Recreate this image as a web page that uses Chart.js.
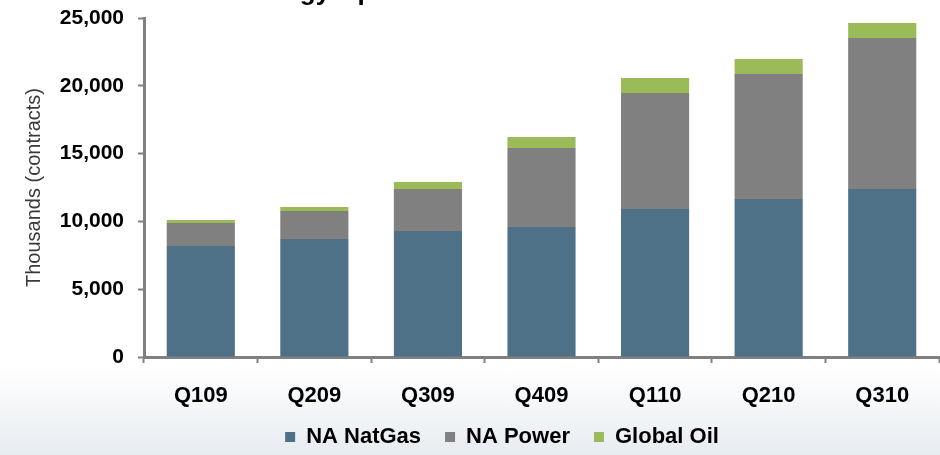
<!doctype html>
<html lang="en">
<head>
	<meta charset="utf-8">
	<title>Energy Open Interest</title>
	<script src="https://cdn.jsdelivr.net/npm/chart.js"></script>
	<style>
		html, body { margin: 0; padding: 0; }
		body {
			width: 940px; height: 455px; overflow: hidden;
			background: linear-gradient(to bottom, #ffffff 0px, #ffffff 365px, #e7ecf1 455px);
		}
		#wrap { position: relative; width: 940px; height: 455px; }
	</style>
</head>
<body>
	<div id="wrap"><canvas id="myChart" width="940" height="455"></canvas></div>

	<script>
		// quarters
		var quarters = ["Q109", "Q209", "Q309", "Q409", "Q110", "Q210", "Q310"];
		// thousands of contracts
		var naNatGas = [8190, 8700, 9290, 9590, 10910, 11650, 12390];
		var naPower = [1690, 2070, 3100, 5820, 8560, 9220, 11140];
		var globalOil = [220, 290, 520, 810, 1110, 1110, 1100];
		var yTicks = [0, 5000, 10000, 15000, 20000, 25000];

		var titleText = "Energy Open Interest";

		// title sits mostly above the picture, only its descenders show
		var cutTitle = {
			id: 'cutTitle',
			afterDraw: function (chart) {
				var ctx = chart.ctx;
				ctx.save();
				ctx.font = 'bold 26px "Liberation Sans", Arial, sans-serif';
				ctx.fillStyle = '#000';
				ctx.textAlign = 'left';
				ctx.textBaseline = 'alphabetic';
				ctx.fillText(titleText, 242, -0.5);
				ctx.restore();
			}
		};

		// legend wants wide gaps between items but not the tall box that comes with them,
		// and it sits a bit right of the canvas centre
		var legendFix = {
			id: 'legendFix',
			afterInit: function (chart) {
				var lg = chart.legend;
				var fit = lg.fit;
				var draw = lg.draw;
				lg.fit = function () {
					fit.call(this);
					this.height = 46;
				};
				lg.draw = function () {
					var c = this.ctx;
					c.save();
					c.translate(32, -7);
					draw.call(this);
					c.restore();
				};
			}
		};

		var ctx = document.getElementById('myChart').getContext('2d');
		var myChart = new Chart(ctx, {
			type: 'bar',
			data: {
				labels: quarters,
				datasets: [
					{ label: 'NA NatGas', data: naNatGas, backgroundColor: '#4e7188' },
					{ label: 'NA Power', data: naPower, backgroundColor: '#808080' },
					{ label: 'Global Oil', data: globalOil, backgroundColor: '#9bbb59' }
				]
			},
			options: {
				responsive: false,
				animation: false,
				layout: { padding: 0 },
				datasets: { bar: { categoryPercentage: 1, barPercentage: 0.6 } },
				plugins: {
					tooltip: { enabled: false },
					legend: {
						position: 'bottom',
						labels: {
							boxWidth: 10,
							boxHeight: 10,
							padding: 24,
							color: '#000',
							font: { family: '"Liberation Sans", Arial, sans-serif', size: 22, weight: 'bold' }
						}
					}
				},
				scales: {
					x: {
						stacked: true,
						border: { color: '#808080', width: 3 },
						grid: { offset: true, drawOnChartArea: false, drawTicks: true, tickLength: 6, tickColor: '#808080', tickWidth: 2 },
						ticks: {
							color: '#000',
							padding: 20,
							font: { family: '"Liberation Sans", Arial, sans-serif', size: 22, weight: 'bold' }
						},
						afterFit: function (scale) {
							scale.height = 52;
							scale.paddingRight = 1;
						}
					},
					y: {
						stacked: true,
						min: 0,
						max: 25000,
						afterBuildTicks: function (scale) {
							scale.ticks = yTicks.map(function (v) { return { value: v }; });
						},
						border: { color: '#808080', width: 3 },
						grid: { drawOnChartArea: false, drawTicks: true, tickLength: 6, tickColor: '#808080', tickWidth: 2 },
						ticks: {
							color: '#000',
							padding: 14,
							font: { family: '"Liberation Sans", Arial, sans-serif', size: 21, weight: 'bold' },
							callback: function (v) { return v.toLocaleString('en-US'); }
						},
						title: {
							display: true,
							text: 'Thousands (contracts)',
							color: '#3a3a3a',
							padding: { top: 22, bottom: 6 },
							font: { family: '"Liberation Sans", Arial, sans-serif', size: 20, weight: 'normal' }
						},
						afterFit: function (scale) {
							scale.width = 144;
							scale.paddingTop = 18;
							scale.paddingBottom = 0;
						}
					}
				}
			},
			plugins: [cutTitle, legendFix]
		});
	</script>
</body>
</html>
